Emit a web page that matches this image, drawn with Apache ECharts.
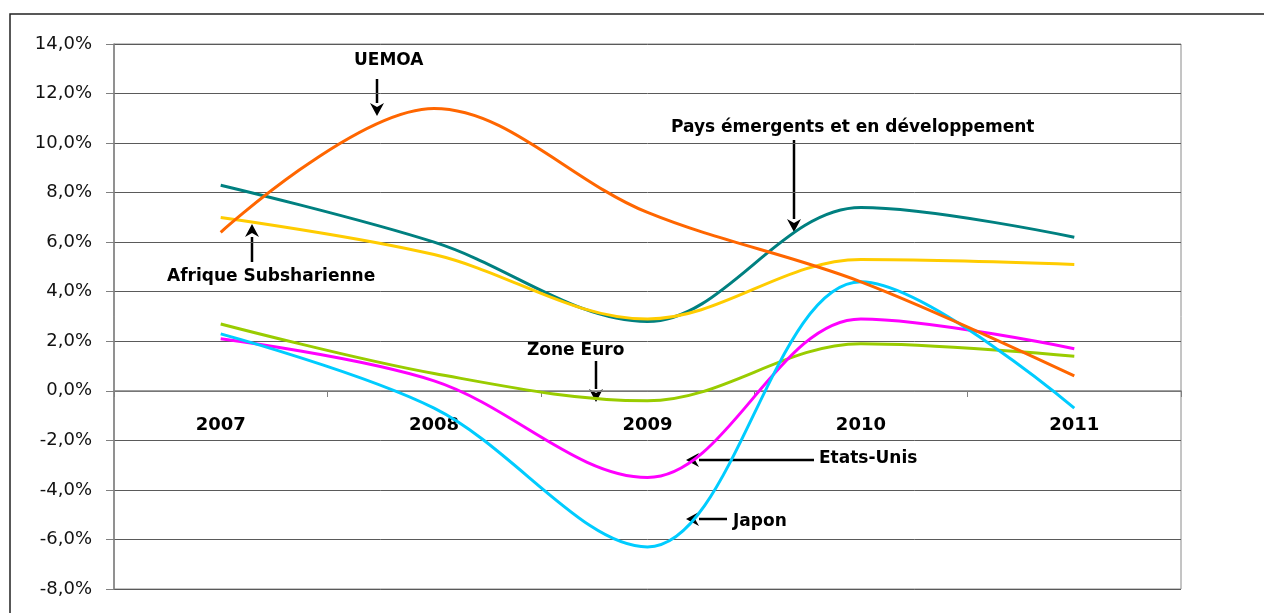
<!DOCTYPE html>
<html>
<head>
<meta charset="utf-8">
<script src="https://cdn.jsdelivr.net/npm/echarts@6/dist/echarts.min.js"></script>
<style>
  html, body { margin: 0; padding: 0; background: #fff; }
  #chart { width: 1264px; height: 613px; }
</style>
</head>
<body>
<div id="chart"></div>
<script>
// values in %
const years = ["2007", "2008", "2009", "2010", "2011"];
const uemoa = [6.4, 11.4, 7.2, 4.4, 0.6];
const emergents = [8.3, 6.0, 2.8, 7.4, 6.2];
const afrique = [7.0, 5.5, 2.9, 5.3, 5.1];
const zoneEuro = [2.7, 0.7, -0.4, 1.9, 1.4];
const etatsUnis = [2.1, 0.4, -3.5, 2.9, 1.7];
const japon = [2.3, -0.7, -6.3, 4.4, -0.7];

(function(){
  const FONT = "DejaVu Sans";
  const Y_MIN = -8, Y_MAX = 14;
  const GRID = { left: 114, top: 44, right: 83, bottom: 24 };
  const plotH = 613 - GRID.top - GRID.bottom;
  // category axis sits on the 0% line (like Excel "axis crosses at 0")
  const zeroOffset = -Math.round((0 - Y_MIN) / (Y_MAX - Y_MIN) * plotH);

  // arrow from tail (x1,y1) to tip (x2,y2)
  function arrow(x1, y1, x2, y2){
    const dx = x2 - x1, dy = y2 - y1;
    const len = Math.sqrt(dx*dx + dy*dy);
    const ux = dx/len, uy = dy/len;
    const bx = x2 - ux*13, by = y2 - uy*13;
    const px = -uy*7, py = ux*7;
    return [
      { type: "line", silent: true, shape: { x1, y1, x2: bx, y2: by }, style: { stroke: "#000", lineWidth: 2.5 } },
      { type: "polygon", silent: true, shape: { points: [[x2, y2], [bx+px, by+py], [x2-ux*9, y2-uy*9], [bx-px, by-py]] }, style: { fill: "#000" } }
    ];
  }
  function note(x, y, text){
    return { type: "text", silent: true, x, y, style: { text, font: "bold 17px '" + FONT + "'", fill: "#000", textVerticalAlign: "middle" } };
  }

  const line = (name, data, color)=>({
    name, type: "line", data, smooth: 0.35, symbol: "none",
    lineStyle: { color, width: 3 }, itemStyle: { color }
  });

  const chart = echarts.init(document.getElementById("chart"));
  chart.setOption({
    animation: false,
    grid: Object.assign({ outerBoundsMode: "none", show: true, borderColor: "#8a8a8a", borderWidth: 1 }, GRID),
    xAxis: {
      type: "category",
      data: years,
      boundaryGap: true,
      offset: zeroOffset,
      axisLine: { onZero: false, lineStyle: { color: "#808080", width: 1.5 } },
      axisTick: { show: true, length: 6, lineStyle: { color: "#808080" } },
      axisLabel: { color: "#000", fontFamily: FONT, fontWeight: "bold", fontSize: 18, margin: 25 },
      splitLine: { show: false }
    },
    yAxis: {
      type: "value",
      min: Y_MIN, max: Y_MAX, interval: 2,
      axisLine: { show: true, lineStyle: { color: "#808080", width: 1.5 } },
      axisTick: { show: true, length: 8, lineStyle: { color: "#808080" } },
      axisLabel: { color: "#111", fontFamily: FONT, fontSize: 18, margin: 22,
        formatter: (v)=> v.toFixed(1).replace(".", ",") + "%" },
      splitLine: { show: true, lineStyle: { color: "#5a5a5a", width: 1 } }
    },
    series: [
      line("Pays émergents et en développement", emergents, "#008080"),
      line("Afrique Subsharienne", afrique, "#FFCC00"),
      line("Zone Euro", zoneEuro, "#99CC00"),
      line("Etats-Unis", etatsUnis, "#FF00FF"),
      line("Japon", japon, "#00CCFF"),
      line("UEMOA", uemoa, "#FF6600")
    ],
    graphic: [
      // outer frame
      { type: "rect", silent: true, shape: { x: 10, y: 14, width: 1400, height: 1000 }, style: { fill: null, stroke: "#222", lineWidth: 1.5 } },
      note(354, 61, "UEMOA"),
      ...arrow(377, 79, 377, 116),
      note(671, 128, "Pays émergents et en développement"),
      ...arrow(794, 140, 794, 232),
      note(167, 277, "Afrique Subsharienne"),
      ...arrow(252, 262, 252, 224),
      note(527, 351, "Zone Euro"),
      ...arrow(596, 361, 596, 402),
      note(819, 459, "Etats-Unis"),
      ...arrow(814, 460, 686, 460),
      note(733, 522, "Japon"),
      ...arrow(727, 519, 686, 519)
    ]
  });

  window.addEventListener("resize", ()=>chart.resize());
})();
</script>
</body>
</html>
